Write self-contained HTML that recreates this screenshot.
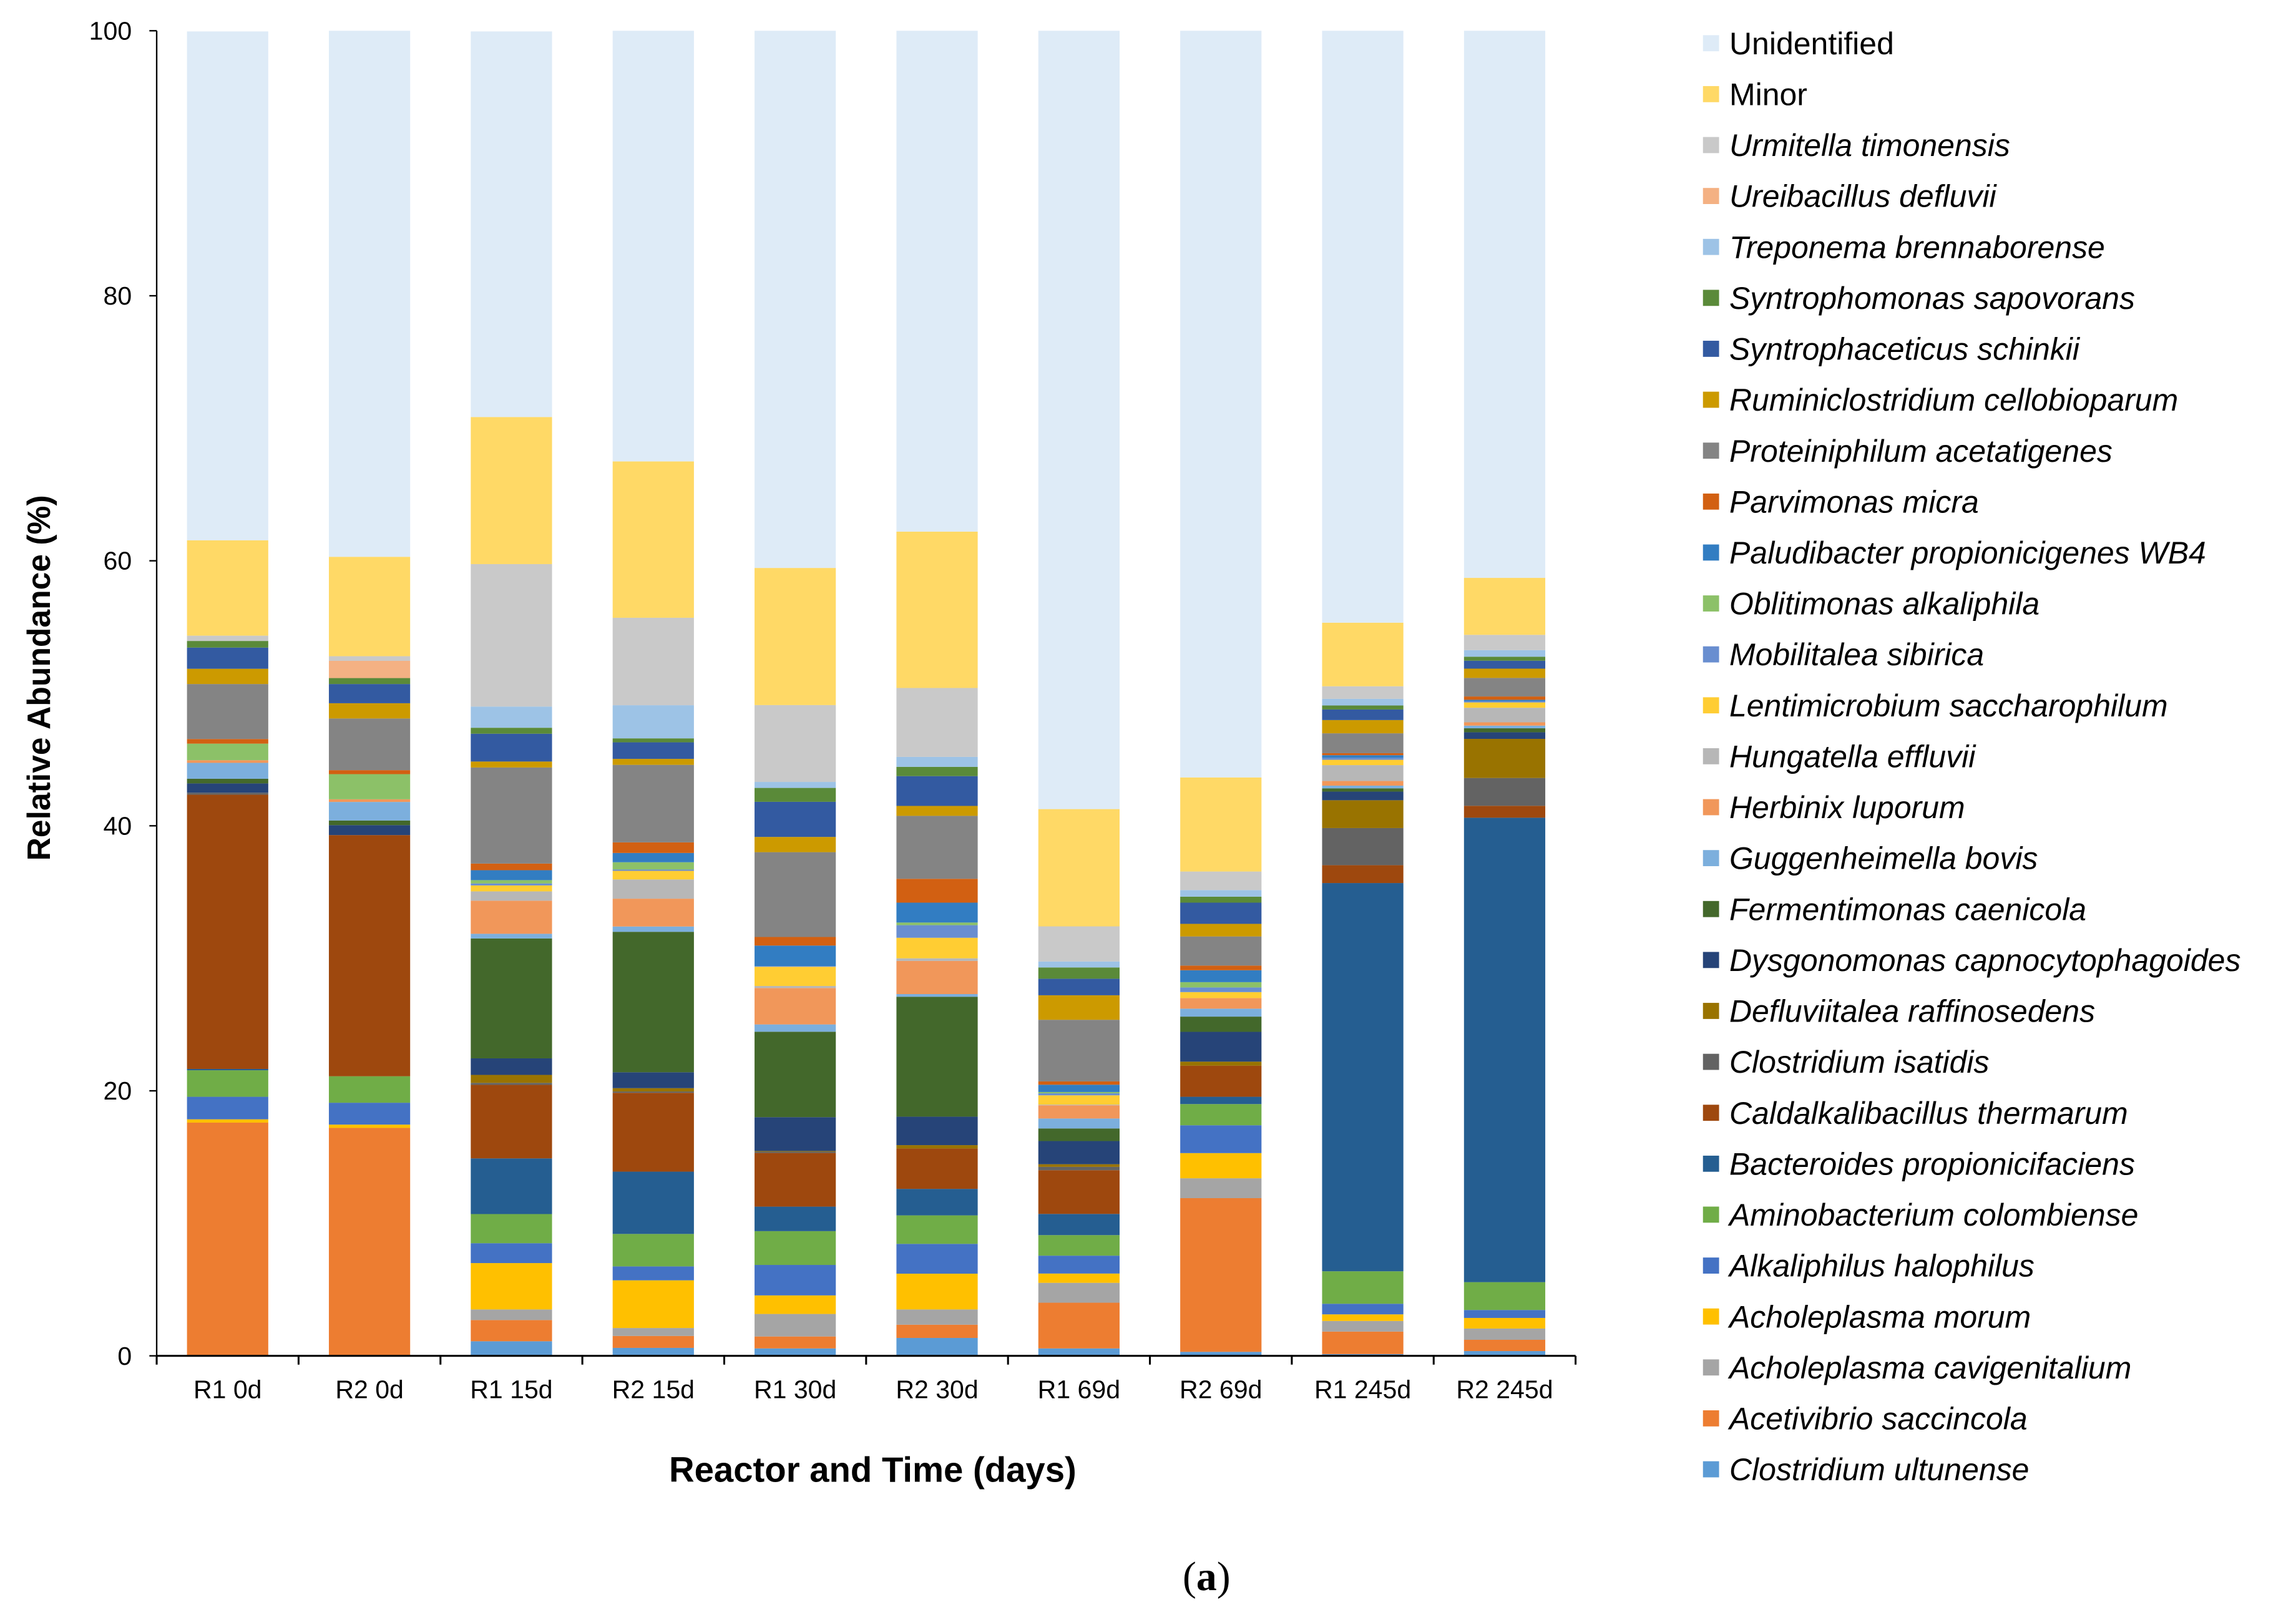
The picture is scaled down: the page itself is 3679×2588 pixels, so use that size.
<!DOCTYPE html>
<html><head><meta charset="utf-8">
<style>
html,body{margin:0;padding:0;background:#fff;}
svg{display:block;font-family:"Liberation Sans",Arial,sans-serif;}
</style></head>
<body>
<svg id="chart" width="3679" height="2588" viewBox="0 0 1568 1103" xmlns="http://www.w3.org/2000/svg">
<g id="plot"></g>
<g id="axes"></g>
<g id="legend"></g>
<text x="0" y="0" transform="translate(34,463) rotate(-90)" text-anchor="middle" font-size="22" font-weight="bold" fill="#000">Relative Abundance (%)</text>
<text x="596" y="1012" text-anchor="middle" font-size="24" font-weight="bold" fill="#000">Reactor and Time (days)</text>
<text x="824" y="1086" text-anchor="middle" font-size="28" font-family="Liberation Serif, serif" fill="#000">(<tspan font-weight="bold">a</tspan>)</text>
</svg>
<script>
const categories = ["R1 0d","R2 0d","R1 15d","R2 15d","R1 30d","R2 30d","R1 69d","R2 69d","R1 245d","R2 245d"];
const seriesNames = ["Clostridium ultunense","Acetivibrio saccincola","Acholeplasma cavigenitalium","Acholeplasma morum","Alkaliphilus halophilus","Aminobacterium colombiense","Bacteroides propionicifaciens","Caldalkalibacillus thermarum","Clostridium isatidis","Defluviitalea raffinosedens","Dysgonomonas capnocytophagoides","Fermentimonas caenicola","Guggenheimella bovis","Herbinix luporum","Hungatella effluvii","Lentimicrobium saccharophilum","Mobilitalea sibirica","Oblitimonas alkaliphila","Paludibacter propionicigenes WB4","Parvimonas micra","Proteiniphilum acetatigenes","Ruminiclostridium cellobioparum","Syntrophaceticus schinkii","Syntrophomonas sapovorans","Treponema brennaborense","Ureibacillus defluvii","Urmitella timonensis","Minor","Unidentified"];
const seriesColors = ["#5B9BD5","#ED7D31","#A5A5A5","#FFC000","#4472C4","#70AD47","#255E91","#9E480E","#636363","#997300","#264478","#43682B","#7CAFDD","#F1975A","#B7B7B7","#FFCD33","#698ED0","#8CC168","#327DC2","#D26012","#848484","#CC9A00","#335AA1","#5A8A39","#9DC3E6","#F4B183","#C9C9C9","#FFD966","#DEEBF7"];
const ultunense   = [0,0,1.1,0.6,0.56,1.35,0.56,0.3,0.13,0.36];
const acetivibrio = [17.6,17.2,1.6,0.9,0.9,1.0,3.45,11.6,1.7,0.85];
const cavigenit   = [0,0,0.8,0.6,1.7,1.15,1.5,1.5,0.8,0.85];
const morum       = [0.25,0.25,3.5,3.6,1.4,2.7,0.7,1.9,0.5,0.8];
const alkaliph    = [1.7,1.65,1.5,1.05,2.3,2.25,1.35,2.1,0.8,0.6];
const aminobact   = [2.0,2.0,2.2,2.45,2.55,2.15,1.55,1.6,2.45,2.1];
const bacteroides = [0.1,0,4.2,4.7,1.85,2.0,1.6,0.55,29.3,35.05];
const caldalk     = [20.7,18.2,5.55,5.95,4.05,3.05,3.3,2.35,1.35,0.9];
const isatidis    = [0.15,0,0.15,0.1,0.1,0,0.25,0,2.8,2.1];
const defluv      = [0,0,0.6,0.25,0.05,0.25,0.2,0.3,2.1,2.95];
const dysgon      = [0.7,0.75,1.25,1.2,2.55,2.15,1.75,2.25,0.65,0.5];
const fermenti    = [0.35,0.35,9.05,10.6,6.45,9.05,0.95,1.15,0.25,0.3];
const guggen      = [1.2,1.4,0.35,0.4,0.55,0.2,0.75,0.6,0.2,0.2];
const herbinix    = [0.2,0.2,2.5,2.1,2.75,2.5,1.0,0.8,0.35,0.25];
const hungatella  = [0,0,0.7,1.45,0.15,0.2,0.05,0,1.2,1.1];
const lentimicro  = [0,0,0.45,0.65,1.45,1.55,0.7,0.45,0.4,0.4];
const mobilitalea = [0,0,0.15,0.1,0.05,0.95,0.15,0.35,0.15,0.1];
const oblitimonas = [1.25,1.9,0.25,0.55,0,0.2,0.1,0.4,0,0];
const paludib     = [0,0,0.75,0.7,1.55,1.5,0.55,0.9,0.2,0.1];
const parvimonas  = [0.35,0.3,0.5,0.8,0.65,1.8,0.25,0.35,0.15,0.25];
const proteini    = [4.15,3.9,7.25,5.85,6.4,4.75,4.65,2.2,1.5,1.4];
const rumini      = [1.15,1.15,0.45,0.45,1.15,0.75,1.85,0.95,1.0,0.7];
const syntrophac  = [1.6,1.45,2.1,1.25,2.65,2.25,1.25,1.6,0.8,0.6];
const syntrophom  = [0.5,0.45,0.45,0.3,1.05,0.7,0.85,0.45,0.3,0.3];
const treponema   = [0,0,1.6,2.5,0.45,0.75,0.45,0.5,0.5,0.5];
const ureibac     = [0,1.3,0,0,0,0,0,0,0,0];
const urmitella   = [0.4,0.35,10.75,6.6,5.8,5.2,2.65,1.4,0.95,1.15];
const minor       = [7.2,7.5,11.1,11.8,10.35,11.8,8.85,7.1,4.8,4.3];
const unidentified= [38.4,39.7,29.1,32.5,40.6,37.8,58.8,56.35,44.7,41.4];
const seriesValues = [ultunense,acetivibrio,cavigenit,morum,alkaliph,aminobact,bacteroides,caldalk,isatidis,defluv,dysgon,fermenti,guggen,herbinix,hungatella,lentimicro,mobilitalea,oblitimonas,paludib,parvimonas,proteini,rumini,syntrophac,syntrophom,treponema,ureibac,urmitella,minor,unidentified];
const yTicks = [0,20,40,60,80,100];

const NS="http://www.w3.org/2000/svg";
const X0=107, X1=1076, Y0=926, Y1=21;
const band=(X1-X0)/categories.length, barW=55.5;
const yScale=v=>Y0-(v/100)*(Y0-Y1);
const xCenter=i=>X0+band*(i+0.5);
function mk(tag,attrs,parent){const e=document.createElementNS(NS,tag);for(const k in attrs)e.setAttribute(k,attrs[k]);parent.appendChild(e);return e;}
const plot=document.getElementById('plot'), axes=document.getElementById('axes'), legend=document.getElementById('legend');

categories.forEach((c,i)=>{
  let cum=0;
  const xs=xCenter(i)-barW/2;
  seriesValues.forEach((arr,s)=>{
    const v=arr[i]; if(!v) {return;}
    const top=Math.min(cum+v,100);
    const r=mk('rect',{x:xs,y:yScale(top),width:barW,height:yScale(cum)-yScale(top),fill:seriesColors[s]},plot);
    
    
    cum=top;
  });
});

const xa=mk('line',{x1:X0,y1:Y0,x2:X1,y2:Y0,stroke:'#000','stroke-width':1.3},axes);


const ya=mk('line',{x1:X0,y1:Y1,x2:X0,y2:Y0,stroke:'#000','stroke-width':1},axes);


for(let i=0;i<=categories.length;i++){
  const t=mk('line',{x1:X0+band*i,y1:Y0,x2:X0+band*i,y2:Y0+6,stroke:'#000','stroke-width':1.3},axes);
  
  
}
categories.forEach((c,i)=>{
  const t=mk('text',{x:xCenter(i),y:955,'text-anchor':'middle','font-size':17.5,fill:'#000'},axes);
  t.textContent=c;
  
  
});
yTicks.forEach(v=>{
  const tk=mk('line',{x1:X0-5,y1:yScale(v),x2:X0,y2:yScale(v),stroke:'#000','stroke-width':1},axes);
  
  
  const t=mk('text',{x:90,y:yScale(v)+6,'text-anchor':'end','font-size':17.5,fill:'#000'},axes);
  t.textContent=v;
  
  
});

const n=seriesNames.length;
for(let k=0;k<n;k++){
  const s=n-1-k;
  const y=30+k*(974/28);
  const g=mk('g',{},legend);
  
  
  mk('rect',{x:1163,y:y-6,width:11,height:11,fill:seriesColors[s]},g);
  const t=mk('text',{x:1181,y:y+7,'font-size':21.3,fill:'#000','font-style':(s>=n-2?'normal':'italic')},g);
  t.textContent=seriesNames[s];
}
</script>
</body></html>
